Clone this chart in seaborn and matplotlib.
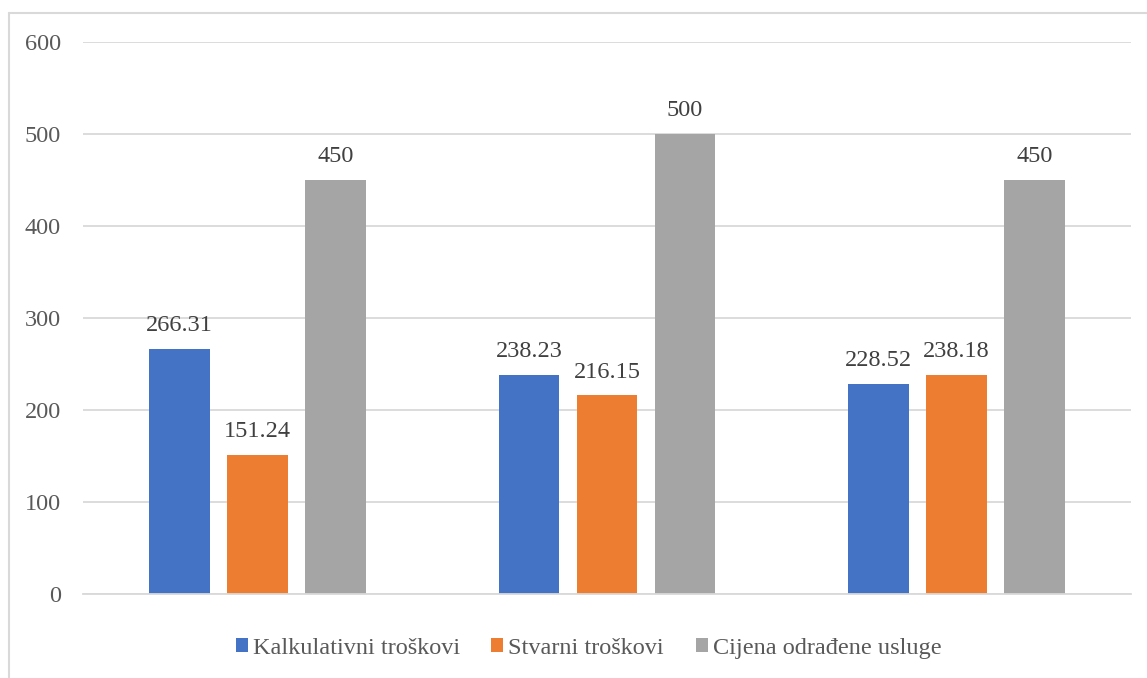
import pandas as pd
import matplotlib
matplotlib.use("Agg")
import matplotlib.pyplot as plt
import seaborn as sns
from matplotlib.lines import Line2D

groups = ["1", "2", "3"]
series = ["Kalkulativni troškovi", "Stvarni troškovi", "Cijena odrađene usluge"]
kalkulativni = [266.31, 238.23, 228.52]
stvarni = [151.24, 216.15, 238.18]
cijena = [450, 500, 450]
label_text = [["266.31", "238.23", "228.52"],
              ["151.24", "216.15", "238.18"],
              ["450", "500", "450"]]
colors = ["#4472C4", "#ED7D31", "#A5A5A5"]

df = pd.DataFrame({
    "grupa": groups * 3,
    "serija": [s for s in series for _ in groups],
    "vrijednost": kalkulativni + stvarni + cijena,
})

sns.set_theme(style="white")
plt.rcParams["font.family"] = ["Liberation Serif", "DejaVu Serif"]

fig = plt.figure(figsize=(11.47, 6.78), dpi=100)
ax = fig.add_axes([0.0724, 0.1239, 0.9136, 0.8142])

sns.barplot(data=df, x="grupa", y="vrijednost", hue="serija", hue_order=series,
            palette=colors, width=0.67, gap=0.22, saturation=1, ax=ax,
            edgecolor="none", errorbar=None)

# value labels above the bars
for cont, labels in zip(ax.containers, label_text):
    ax.bar_label(cont, labels=labels, padding=9, fontsize=17.5, color="#404040")

ax.set_ylim(0, 600)
ax.set_yticks(range(0, 601, 100))
ax.yaxis.grid(True, color="#D9D9D9", linewidth=1.3)
ax.set_axisbelow(True)
ax.set_xlabel("")
ax.set_ylabel("")
ax.set_xticklabels([])
ax.tick_params(axis="y", labelsize=17.5, labelcolor="#595959", length=0, pad=16)
ax.tick_params(axis="x", length=0)
for side in ["top", "right", "left"]:
    ax.spines[side].set_visible(False)
ax.spines["bottom"].set_color("#D9D9D9")
ax.spines["bottom"].set_linewidth(1.3)

handles, lbls = ax.get_legend_handles_labels()
ax.legend_.remove()
fig.legend(handles, lbls, loc="center", bbox_to_anchor=(0.513, 0.044), ncol=3,
           frameon=False, fontsize=17.5, labelcolor="#595959",
           handlelength=0.5, handleheight=0.5, handletextpad=0.2,
           columnspacing=1.3)

# chart area border (only left and top visible in the crop)
fig.add_artist(Line2D([0.0075, 0.0075], [0, 0.981], transform=fig.transFigure,
                      color="#D9D9D9", linewidth=1.5))
fig.add_artist(Line2D([0.0075, 1.0], [0.981, 0.981], transform=fig.transFigure,
                      color="#D9D9D9", linewidth=1.5))

fig.savefig("out.png", dpi=100)
